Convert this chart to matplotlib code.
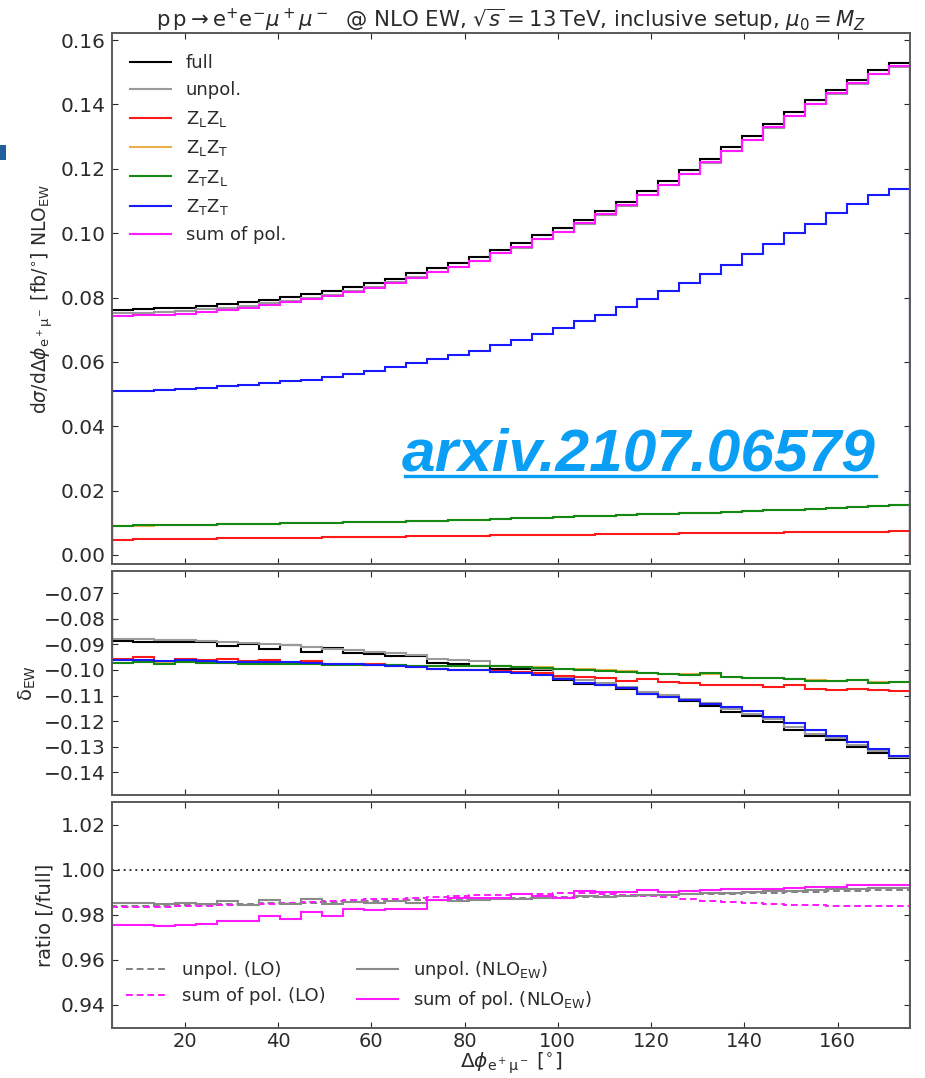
import numpy as np
import matplotlib
matplotlib.use("Agg")
import matplotlib.pyplot as plt
from matplotlib.lines import Line2D
from matplotlib.patches import Rectangle

# ---------------------------------------------------------------------------
# Binning in Delta phi(e+ mu-) [deg]: 4.5 deg wide bins shown from 4.5 to 175.5
# ---------------------------------------------------------------------------
phi_lo, phi_hi, n_bins = 4.5, 175.5, 38
phi_edges = np.linspace(phi_lo, phi_hi, n_bins + 1)

# Differential cross section at NLO EW [fb/deg]
xsec_full = [0.0762, 0.0763, 0.0766, 0.0769, 0.0775, 0.0779, 0.0786, 0.0793,
             0.0803, 0.0810, 0.0820, 0.0833, 0.0845, 0.0859, 0.0875, 0.0891,
             0.0906, 0.0926, 0.0949, 0.0968, 0.0993, 0.1017, 0.1042, 0.1069,
             0.1098, 0.1130, 0.1162, 0.1196, 0.1232, 0.1267, 0.1301, 0.1340,
             0.1376, 0.1413, 0.1446, 0.1477, 0.1506, 0.1530]
xsec_LL = [0.00480, 0.00487, 0.00494, 0.00500, 0.00508, 0.00515, 0.00522, 0.00529,
           0.00536, 0.00543, 0.00550, 0.00557, 0.00564, 0.00571, 0.00578, 0.00585,
           0.00592, 0.00599, 0.00606, 0.00613, 0.00620, 0.00627, 0.00634, 0.00641,
           0.00648, 0.00655, 0.00662, 0.00669, 0.00676, 0.00683, 0.00690, 0.00697,
           0.00704, 0.00710, 0.00716, 0.00722, 0.00728, 0.00733]
xsec_LT = [0.0091, 0.0091, 0.0092, 0.0093, 0.0094, 0.0095, 0.0096, 0.0097,
           0.0098, 0.0099, 0.0100, 0.0101, 0.0102, 0.0103, 0.0105, 0.0106,
           0.0108, 0.0110, 0.0112, 0.0114, 0.0116, 0.0118, 0.0120, 0.0122,
           0.0124, 0.0126, 0.0128, 0.0130, 0.0132, 0.0134, 0.0137, 0.0139,
           0.0141, 0.0144, 0.0146, 0.0149, 0.0151, 0.0154]
xsec_TL = [0.0091, 0.0092, 0.0092, 0.0093, 0.0094, 0.0095, 0.0096, 0.0097,
           0.0098, 0.0099, 0.0100, 0.0101, 0.0102, 0.0103, 0.0105, 0.0106,
           0.0108, 0.0110, 0.0112, 0.0114, 0.0116, 0.0118, 0.0120, 0.0122,
           0.0124, 0.0126, 0.0128, 0.0130, 0.0132, 0.0135, 0.0137, 0.0139,
           0.0141, 0.0144, 0.0146, 0.0149, 0.0151, 0.0154]
xsec_TT = [0.0509, 0.0510, 0.0512, 0.0515, 0.0519, 0.0524, 0.0528, 0.0534,
           0.0541, 0.0545, 0.0553, 0.0563, 0.0572, 0.0583, 0.0596, 0.0608,
           0.0620, 0.0635, 0.0653, 0.0668, 0.0688, 0.0706, 0.0726, 0.0747,
           0.0770, 0.0794, 0.0820, 0.0845, 0.0873, 0.0902, 0.0934, 0.0965,
           0.0999, 0.1030, 0.1063, 0.1092, 0.1118, 0.1136]

# Relative EW corrections delta_EW
delta_full = [-0.0887, -0.0892, -0.0892, -0.0892, -0.0892, -0.0906, -0.0898, -0.0917,
              -0.0901, -0.0930, -0.0915, -0.0932, -0.0939, -0.0944, -0.0946, -0.0974,
              -0.0978, -0.0984, -0.0996, -0.0995, -0.1000, -0.1039, -0.1055, -0.1059,
              -0.1074, -0.1094, -0.1104, -0.1120, -0.1140, -0.1163, -0.1180, -0.1202,
              -0.1235, -0.1258, -0.1274, -0.1300, -0.1325, -0.1345]
delta_unpol = [-0.0878, -0.0878, -0.0883, -0.0883, -0.0887, -0.0889, -0.0894, -0.0899,
               -0.0902, -0.0909, -0.0917, -0.0923, -0.0930, -0.0935, -0.0941, -0.0957,
               -0.0962, -0.0966, -0.0983, -0.0989, -0.0997, -0.1033, -0.1039, -0.1052,
               -0.1065, -0.1085, -0.1098, -0.1112, -0.1130, -0.1154, -0.1172, -0.1193,
               -0.1224, -0.1251, -0.1267, -0.1292, -0.1316, -0.1339]
delta_LL = [-0.0956, -0.0948, -0.0969, -0.0958, -0.0962, -0.0958, -0.0965, -0.0961,
            -0.0971, -0.0964, -0.0978, -0.0978, -0.0977, -0.0984, -0.0987, -0.0996,
            -0.1001, -0.1002, -0.1005, -0.1008, -0.1013, -0.1023, -0.1026, -0.1030,
            -0.1043, -0.1036, -0.1048, -0.1052, -0.1057, -0.1059, -0.1059, -0.1065,
            -0.1059, -0.1074, -0.1078, -0.1073, -0.1077, -0.1083]
delta_LT = [-0.0973, -0.0969, -0.0974, -0.0970, -0.0971, -0.0972, -0.0976, -0.0976,
            -0.0977, -0.0978, -0.0980, -0.0980, -0.0981, -0.0982, -0.0983, -0.0984,
            -0.0985, -0.0984, -0.0986, -0.0988, -0.0990, -0.0996, -0.0997, -0.1000,
            -0.1006, -0.1012, -0.1015, -0.1015, -0.1016, -0.1028, -0.1030, -0.1032,
            -0.1036, -0.1041, -0.1044, -0.1041, -0.1049, -0.1046]
delta_TL = [-0.0974, -0.0969, -0.0975, -0.0970, -0.0971, -0.0972, -0.0977, -0.0976,
            -0.0978, -0.0978, -0.0981, -0.0980, -0.0981, -0.0982, -0.0983, -0.0984,
            -0.0985, -0.0984, -0.0986, -0.0989, -0.0993, -0.0996, -0.1000, -0.1003,
            -0.1008, -0.1012, -0.1016, -0.1018, -0.1013, -0.1029, -0.1030, -0.1033,
            -0.1036, -0.1044, -0.1044, -0.1040, -0.1050, -0.1046]
delta_TT = [-0.0961, -0.0961, -0.0964, -0.0962, -0.0964, -0.0969, -0.0969, -0.0970,
            -0.0970, -0.0973, -0.0977, -0.0978, -0.0980, -0.0984, -0.0990, -0.0995,
            -0.0999, -0.1002, -0.1010, -0.1013, -0.1020, -0.1036, -0.1050, -0.1059,
            -0.1072, -0.1094, -0.1106, -0.1117, -0.1133, -0.1143, -0.1159, -0.1183,
            -0.1208, -0.1235, -0.1257, -0.1280, -0.1309, -0.1336]

# Ratios to the full result
ratio_unpol_lo = [0.9838, 0.9839, 0.9841, 0.9843, 0.9845, 0.9847, 0.9849, 0.9851,
                  0.9853, 0.9855, 0.9857, 0.9859, 0.9861, 0.9863, 0.9865, 0.9867,
                  0.9869, 0.9871, 0.9873, 0.9875, 0.9877, 0.9879, 0.9881, 0.9883,
                  0.9885, 0.9887, 0.9889, 0.9891, 0.9893, 0.9895, 0.9897, 0.9899,
                  0.9901, 0.9903, 0.9905, 0.9907, 0.9909, 0.9911]
ratio_sumpol_lo = [0.9834, 0.9835, 0.9836, 0.9838, 0.9840, 0.9843, 0.9846, 0.9850,
                   0.9853, 0.9857, 0.9861, 0.9865, 0.9869, 0.9873, 0.9877, 0.9880,
                   0.9884, 0.9887, 0.9890, 0.9893, 0.9895, 0.9896, 0.9897, 0.9894,
                   0.9890, 0.9884, 0.9878, 0.9870, 0.9864, 0.9858, 0.9853, 0.9849,
                   0.9845, 0.9842, 0.9840, 0.9839, 0.9838, 0.9838]
ratio_unpol_nlo = [0.9852, 0.9852, 0.9847, 0.9852, 0.9847, 0.9864, 0.9844, 0.9867,
                   0.9847, 0.9871, 0.9847, 0.9858, 0.9855, 0.9862, 0.9855, 0.9868,
                   0.9862, 0.9866, 0.9872, 0.9870, 0.9876, 0.9874, 0.9882, 0.9880,
                   0.9884, 0.9890, 0.9888, 0.9892, 0.9896, 0.9898, 0.9900, 0.9905,
                   0.9908, 0.9910, 0.9914, 0.9916, 0.9918, 0.9920]
ratio_sumpol_nlo = [0.9756, 0.9754, 0.9753, 0.9757, 0.9760, 0.9775, 0.9772, 0.9796,
                    0.9784, 0.9812, 0.9797, 0.9825, 0.9822, 0.9828, 0.9828, 0.9866,
                    0.9874, 0.9874, 0.9874, 0.9892, 0.9886, 0.9876, 0.9908, 0.9900,
                    0.9900, 0.9912, 0.9902, 0.9905, 0.9911, 0.9916, 0.9916, 0.9916,
                    0.9920, 0.9926, 0.9923, 0.9932, 0.9932, 0.9932]

# unpolarised and sum-of-polarised NLO EW distributions from their ratio to full
xsec_unpol = np.array(xsec_full) * np.array(ratio_unpol_nlo)
xsec_sumpol = np.array(xsec_full) * np.array(ratio_sumpol_nlo)

# ---------------------------------------------------------------------------
C_FULL, C_UNPOL = "black", "#9a9a9a"
C_LL, C_LT, C_TL, C_TT, C_SUM = "#ff1a1a", "#e8b04a", "#148a14", "#1a1aff", "#ff1aff"
TXT = "#2b2b2b"

plt.rcParams.update({
    "font.family": ["DejaVu Sans"],
    "font.size": 13,
    "text.color": TXT,
    "axes.labelcolor": TXT,
    "axes.edgecolor": "#5a5a5a",
    "axes.linewidth": 1.4,
    "xtick.color": TXT,
    "ytick.color": TXT,
    "xtick.direction": "in",
    "ytick.direction": "in",
    "xtick.top": True,
    "ytick.right": True,
    "xtick.major.size": 4,
    "ytick.major.size": 4,
    "xtick.major.pad": 3,
    "ytick.major.pad": 5,
    "xtick.labelsize": 14,
    "ytick.labelsize": 14.5,
})

fig = plt.figure(figsize=(9.25, 10.78), dpi=100)
left, width = 0.1214, 0.8624
ax1 = fig.add_axes([left, 0.4768, width, 0.4923])
ax2 = fig.add_axes([left, 0.2625, width, 0.2081], sharex=ax1)
ax3 = fig.add_axes([left, 0.0461, width, 0.2097], sharex=ax1)

LW = 1.5


def two_decimals(v, _pos):
    # unicode minus as in the default formatter
    return f"{v:.2f}".replace("-", "\u2212")


fmt = matplotlib.ticker.FuncFormatter(two_decimals)

# --- top panel: distributions ---
ax1.stairs(xsec_full, phi_edges, color=C_FULL, lw=LW, label="full")
ax1.stairs(xsec_unpol, phi_edges, color=C_UNPOL, lw=LW, label="unpol.")
ax1.stairs(xsec_LL, phi_edges, color=C_LL, lw=LW, label=r"Z$_\mathrm{L}$Z$_\mathrm{L}$")
ax1.stairs(xsec_LT, phi_edges, color=C_LT, lw=LW, label=r"Z$_\mathrm{L}$Z$_\mathrm{T}$")
ax1.stairs(xsec_TL, phi_edges, color=C_TL, lw=LW, label=r"Z$_\mathrm{T}$Z$_\mathrm{L}$")
ax1.stairs(xsec_TT, phi_edges, color=C_TT, lw=LW, label=r"Z$_\mathrm{T}$Z$_\mathrm{T}$")
ax1.stairs(xsec_sumpol, phi_edges, color=C_SUM, lw=LW, label="sum of pol.")
ax1.set_ylim(-0.0028, 0.1621)
ax1.set_yticks(np.arange(0.0, 0.161, 0.02))
ax1.yaxis.set_major_formatter(fmt)
ax1.set_ylabel(r"d$\sigma$/d$\Delta\phi_{\mathrm{e^+\mu^-}}$ [fb/$^{\circ}$] NLO$_{\mathrm{EW}}$",
               fontsize=13.5)
ax1.legend(loc="upper left", bbox_to_anchor=(-0.004, 1.0), frameon=False, fontsize=13,
           handlelength=2.3, labelspacing=0.52, borderaxespad=0.75)
ax1.set_title(r"$\mathrm{p\,p}\rightarrow\mathrm{e}^{+}\mathrm{e}^{-}\mu^+\mu^-$  @ NLO EW, "
              r"$\sqrt{s}=13\,$TeV, inclusive setup, $\mu_0=M_Z$", fontsize=15.3, pad=3)
plt.setp(ax1.get_xticklabels(), visible=False)

# --- middle panel: relative EW corrections ---
ax2.stairs(delta_full, phi_edges, color=C_FULL, lw=LW)
ax2.stairs(delta_unpol, phi_edges, color=C_UNPOL, lw=LW)
ax2.stairs(delta_LL, phi_edges, color=C_LL, lw=LW)
ax2.stairs(delta_LT, phi_edges, color=C_LT, lw=LW)
ax2.stairs(delta_TL, phi_edges, color=C_TL, lw=LW)
ax2.stairs(delta_TT, phi_edges, color=C_TT, lw=LW)
ax2.set_ylim(-0.1489, -0.0612)
ax2.set_yticks(np.arange(-0.14, -0.065, 0.01))
ax2.yaxis.set_major_formatter(fmt)
ax2.set_ylabel(r"δ$_{\mathrm{EW}}$", fontsize=14)
plt.setp(ax2.get_xticklabels(), visible=False)

# --- bottom panel: ratios to full ---
ax3.stairs(ratio_unpol_lo, phi_edges, color="#808080", lw=1.4, ls=(0, (3.5, 2)),
           label="unpol. (LO)")
ax3.stairs(ratio_sumpol_lo, phi_edges, color=C_SUM, lw=1.4, ls=(0, (3.5, 2)),
           label="sum of pol. (LO)")
ax3.stairs(ratio_unpol_nlo, phi_edges, color="#8a8a8a", lw=LW,
           label=r"unpol. (NLO$_{\mathrm{EW}}$)")
ax3.stairs(ratio_sumpol_nlo, phi_edges, color=C_SUM, lw=LW,
           label=r"sum of pol. (NLO$_{\mathrm{EW}}$)")
ax3.axhline(1.0, color="#333333", lw=1.4, ls=(0, (1, 2)))
ax3.set_ylim(0.9296, 1.0301)
ax3.set_yticks(np.arange(0.94, 1.021, 0.02))
ax3.yaxis.set_major_formatter(fmt)
ax3.set_ylabel("ratio [/full]", fontsize=14)
ax3.legend(loc="lower left", bbox_to_anchor=(-0.004, 0.0), ncol=2, frameon=False,
           fontsize=13, handlelength=2.3, columnspacing=1.7, labelspacing=0.45,
           borderaxespad=0.55)

ax3.set_xlim(phi_lo, phi_hi)
ax3.set_xticks(np.arange(20, 161, 20))
ax3.set_xlabel(r"$\Delta\phi_{\mathrm{e^+\mu^-}}$ [$^{\circ}$]", fontsize=14.5, labelpad=-1)

# --- arXiv reference stamp ---
stamp = fig.text(0.4346, 0.5631, "arxiv.2107.06579", color="#0a9ff5", fontsize=43.5,
                 family=["Liberation Sans", "DejaVu Sans"], weight="bold", style="italic",
                 ha="left", va="baseline")
fig.canvas.draw()
bb = stamp.get_window_extent().transformed(fig.transFigure.inverted())
fig.add_artist(Line2D([bb.x0 + 0.003, bb.x1], [0.5584, 0.5584], transform=fig.transFigure,
                      color="#0a9ff5", lw=2.4))

# small clipped badge at the left border
fig.add_artist(Rectangle((0.0, 1 - 160 / 1078), 6 / 925, 15 / 1078,
                         transform=fig.transFigure, color="#1f5f9e", lw=0))

fig.savefig("out.png", dpi=100)
